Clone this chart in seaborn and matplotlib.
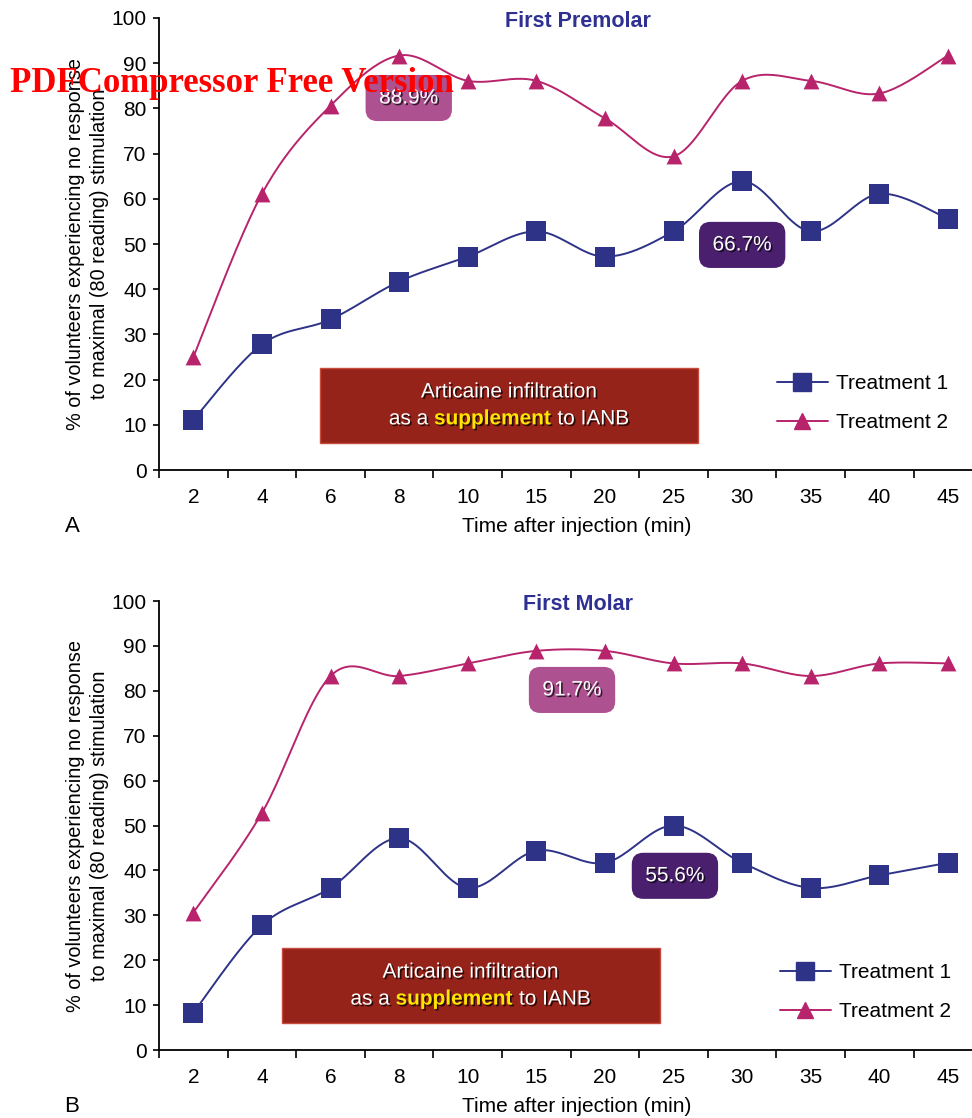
import numpy as np
import seaborn as sns
import matplotlib.pyplot as plt
import matplotlib.patheffects as pe
from matplotlib.lines import Line2D
from matplotlib.patches import Rectangle

times = ['2', '4', '6', '8', '10', '15', '20', '25', '30', '35', '40', '45']

premolar_t1 = [11.1, 27.8, 33.3, 41.7, 47.2, 52.8, 47.2, 52.8, 63.9, 52.8, 61.1, 55.6]
premolar_t2 = [25.0, 61.1, 80.6, 91.7, 86.1, 86.1, 77.8, 69.4, 86.1, 86.1, 83.3, 91.7]
molar_t1 = [8.3, 27.8, 36.1, 47.2, 36.1, 44.4, 41.7, 50.0, 41.7, 36.1, 38.9, 41.7]
molar_t2 = [30.6, 52.8, 83.3, 83.3, 86.1, 88.9, 88.9, 86.1, 86.1, 83.3, 86.1, 86.1]

titles = ['First Premolar', 'First Molar']
letters = ['A', 'B']
badges_t1 = ['66.7%', '55.6%']
badges_t2 = ['88.9%', '91.7%']
series_labels = ['Treatment 1', 'Treatment 2']

C1 = '#2e3388'
C2 = '#b8246c'
FS = 15


def smooth(y, n=25):
    # excel-like smoothed line (catmull-rom as bezier)
    y = np.asarray(y, float)
    p = np.column_stack([np.arange(len(y), dtype=float), y])
    ext = np.vstack([p[0], p, p[-1]])
    t = np.linspace(0, 1, n)[:, None]
    out = []
    for i in range(len(p) - 1):
        p0, p1, p2, p3 = ext[i], ext[i + 1], ext[i + 2], ext[i + 3]
        c1 = p1 + (p2 - p0) / 6
        c2 = p2 - (p3 - p1) / 6
        seg = (1 - t) ** 3 * p1 + 3 * (1 - t) ** 2 * t * c1 + 3 * (1 - t) * t ** 2 * c2 + t ** 3 * p2
        out.append(seg if i == 0 else seg[1:])
    out = np.vstack(out)
    return out[:, 0], out[:, 1]


sns.set_style('ticks')
plt.rcParams['font.family'] = ['Liberation Sans', 'DejaVu Sans']
for key in ['text.color', 'axes.labelcolor', 'xtick.color', 'ytick.color']:
    plt.rcParams[key] = 'black'

fig = plt.figure(figsize=(9.72, 11.18), dpi=100)
ax_a = fig.add_axes([0.1636, 0.5796, 0.8364, 0.4043])
ax_b = fig.add_axes([0.1636, 0.0608, 0.8364, 0.4016])

panels = [
    dict(ax=ax_a, t1=premolar_t1, t2=premolar_t2, b1=(8.0, 49.8), b2=(3.14, 82.3),
         box=(1.85, 6.0, 5.51, 16.6), leg=(0.7597, 0.212), letter_y=527),
    dict(ax=ax_b, t1=molar_t1, t2=molar_t2, b1=(7.02, 38.8), b2=(5.52, 80.2),
         box=(1.29, 6.0, 5.51, 16.7), leg=(0.7634, 0.193), letter_y=1107),
]

idx = np.arange(len(times))
shadow = [pe.withSimplePatchShadow(offset=(1.2, -1.2), shadow_rgbFace='black', alpha=0.7)]

for k, p in enumerate(panels):
    ax = p['ax']
    for vals, col, mk, size in [(p['t1'], C1, 's', 190), (p['t2'], C2, '^', 130)]:
        sx, sy = smooth(vals)
        sns.lineplot(x=sx, y=sy, sort=False, estimator=None, color=col, linewidth=1.4, ax=ax)
        sns.scatterplot(x=idx, y=vals, marker=mk, s=size, color=col, linewidth=0, ax=ax, zorder=3)

    ax.set_yticks(range(0, 101, 10))
    ax.set_xticks(idx)
    ax.set_xticklabels(times)
    ax.set_xticks(np.arange(-0.5, 12, 1), minor=True)
    ax.set_xlim(-0.5, 11.35)
    ax.set_ylim(0, 100)
    ax.tick_params(axis='x', which='major', length=0, pad=13, labelsize=FS)
    ax.tick_params(axis='x', which='minor', length=6, width=1.2, color='black')
    ax.tick_params(axis='y', length=4, width=1.2, pad=5, labelsize=FS, color='black')
    for s in ['left', 'bottom']:
        ax.spines[s].set_color('black')
        ax.spines[s].set_linewidth(1.3)
    sns.despine(ax=ax)
    ax.grid(False)

    ax.set_xlabel('Time after injection (min)', fontsize=FS)
    ax.xaxis.set_label_coords(0.514, -0.104)
    ax.set_ylabel('% of volunteers experiencing no response\nto maximal (80 reading) stimulation',
                  fontsize=14.3, linespacing=1.35)
    ax.yaxis.set_label_coords(-0.061, 0.5)

    ax.text(5.61, 99.3, titles[k], color='#2e3192', fontsize=15.5, fontweight='bold',
            ha='center', va='center')

    # percentage badges
    ax.text(*p['b1'], badges_t1[k], color='white', fontsize=FS, ha='center', va='center',
            path_effects=shadow,
            bbox=dict(boxstyle='round,pad=0.65,rounding_size=0.55', fc='#4a1f6e', ec='none'))
    ax.text(*p['b2'], badges_t2[k], color='white', fontsize=FS, ha='center', va='center',
            path_effects=shadow,
            bbox=dict(boxstyle='round,pad=0.65,rounding_size=0.55', fc='#ad5190', ec='none'))

    # red annotation box
    x0, y0, w, h = p['box']
    ax.add_patch(Rectangle((x0, y0), w, h, facecolor='#96231a', edgecolor='#c84a3a',
                           linewidth=1, zorder=2))
    cx = x0 + w / 2
    ax.text(cx, y0 + h * 0.68, 'Articaine infiltration', color='white', fontsize=FS,
            ha='center', va='center', path_effects=shadow, zorder=4)
    t_sup = ax.text(cx - 0.24, y0 + h * 0.32, 'supplement', color='#ffe600', fontsize=FS,
                    fontweight='bold', ha='center', va='center', path_effects=shadow, zorder=4)
    ax.annotate('as a ', xy=(0, 0), xycoords=t_sup, ha='right', va='bottom', color='white',
                fontsize=FS, path_effects=shadow, zorder=4)
    ax.annotate(' to IANB', xy=(1, 0), xycoords=t_sup, ha='left', va='bottom', color='white',
                fontsize=FS, path_effects=shadow, zorder=4)

    handles = [Line2D([], [], color=C1, marker='s', markersize=13, lw=1.4),
               Line2D([], [], color=C2, marker='^', markersize=11, lw=1.4)]
    ax.legend(handles, series_labels, loc='upper left', bbox_to_anchor=p['leg'], frameon=False,
              fontsize=FS, handlelength=2.45, handletextpad=0.4, labelspacing=0.95,
              borderpad=0, borderaxespad=0)

    fig.text(72 / 972, 1 - p['letter_y'] / 1118, letters[k], fontsize=16, ha='center', va='center')

fig.text(10 / 972, 1 - 83 / 1118, 'PDFCompressor Free Version', color='red', fontsize=25,
         fontweight='bold', family=['Liberation Serif', 'DejaVu Serif'], ha='left', va='center',
         zorder=10)

fig.savefig('out.png', dpi=100)
